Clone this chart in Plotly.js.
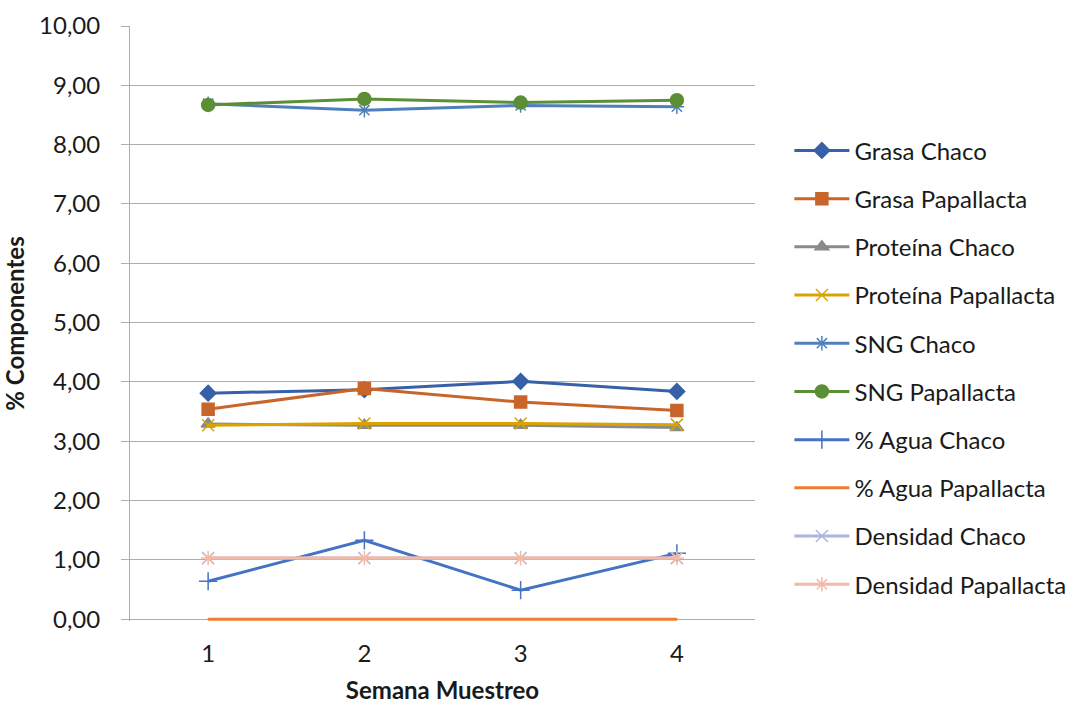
<!DOCTYPE html>
<html>
<head>
<meta charset="utf-8">
<script src="https://cdn.plot.ly/plotly-3.0.1.min.js"></script>
<style>
  html, body { margin: 0; padding: 0; background: #ffffff; }
  #chart { width: 1075px; height: 704px; }
</style>
</head>
<body>
<div id="chart"></div>
<script>
// Semanas de muestreo
const semanas = [1, 2, 3, 4];

// Valores por componente y origen (%)
const grasaChaco = [3.81, 3.87, 4.01, 3.84];
const grasaPapallacta = [3.54, 3.89, 3.66, 3.52];
const proteinaChaco = [3.29, 3.27, 3.27, 3.23];
const proteinaPapallacta = [3.27, 3.30, 3.30, 3.28];
const sngChaco = [8.69, 8.58, 8.66, 8.64];
const sngPapallacta = [8.67, 8.77, 8.71, 8.75];
const aguaChaco = [0.64, 1.33, 0.49, 1.11];
const aguaPapallacta = [0.00, 0.00, 0.00, 0.00];
const densidadChaco = [1.03, 1.03, 1.03, 1.03];
const densidadPapallacta = [1.03, 1.03, 1.03, 1.03];

const nombres = [
  'Grasa Chaco', 'Grasa Papallacta', 'Proteína Chaco', 'Proteína Papallacta',
  'SNG Chaco', 'SNG Papallacta', '% Agua Chaco', '% Agua Papallacta',
  'Densidad Chaco', 'Densidad Papallacta'
];

const series = [grasaChaco, grasaPapallacta, proteinaChaco, proteinaPapallacta,
  sngChaco, sngPapallacta, aguaChaco, aguaPapallacta, densidadChaco, densidadPapallacta];

// Estilo de cada serie: color, símbolo y tamaño del marcador
const estilos = [
  { color: '#3660A8', symbol: 'diamond', size: 12 },
  { color: '#C8652B', symbol: 'square', size: 12 },
  { color: '#8A8A8A', symbol: 'triangle-up', size: 12 },
  { color: '#D9A400', symbol: 'x-thin-open', size: 12 },
  { color: '#4F80BC', symbol: 'asterisk-open', size: 12 },
  { color: '#5B8E35', symbol: 'circle', size: 13 },
  { color: '#4472C4', symbol: 'cross-thin-open', size: 13 },
  { color: '#ED7D31', symbol: 'line-ew-open', size: 1 },
  { color: '#A9B7DC', symbol: 'x-thin-open', size: 12 },
  { color: '#F4B9A6', symbol: 'asterisk-open', size: 12 }
];

const traces = series.map((vals, i) => ({
  type: 'scatter',
  mode: 'lines+markers',
  x: semanas,
  y: vals,
  name: nombres[i],
  legendgroup: 'g' + i,
  cliponaxis: false,
  line: { color: estilos[i].color, width: 3 },
  marker: {
    symbol: estilos[i].symbol,
    size: estilos[i].size,
    color: estilos[i].color,
    line: { color: estilos[i].color, width: 1.5 }
  }
}));

const fuente = { family: 'Lato, "Open Sans", sans-serif', size: 24, color: '#1a1a1a' };
const gris = '#ADADAD';

const layout = {
  width: 1075,
  height: 704,
  paper_bgcolor: '#ffffff',
  plot_bgcolor: '#ffffff',
  margin: { l: 130, r: 320, t: 26, b: 83, autoexpand: false },
  font: fuente,
  separators: ',.',
  showlegend: true,
  legend: {
    x: 1.055, xanchor: 'left',
    y: 0.828, yanchor: 'top',
    font: fuente,
    itemwidth: 55,
    tracegroupgap: 14,
    bgcolor: 'rgba(0,0,0,0)'
  },
  xaxis: {
    range: [0.5, 4.5],
    tickvals: semanas,
    ticktext: semanas.map(String),
    showgrid: false,
    zeroline: false,
    showline: false,
    ticks: '',
    ticklabelstandoff: 16,
    tickfont: fuente,
    title: { text: '<b>Semana Muestreo</b>', font: fuente, standoff: 25 }
  },
  yaxis: {
    // el margen inferior mínimo deja visible todo el grosor de la línea en 0
    range: [-0.03, 10],
    tickvals: [0, 1, 2, 3, 4, 5, 6, 7, 8, 9, 10],
    tickformat: '.2f',
    showgrid: true,
    gridcolor: gris,
    gridwidth: 1,
    zeroline: false,
    showline: true,
    linecolor: gris,
    linewidth: 1,
    ticks: 'outside',
    ticklen: 8,
    tickcolor: gris,
    ticklabelstandoff: 16,
    tickfont: fuente,
    title: { text: '<b>% Componentes</b>', font: fuente, standoff: 9 }
  }
};

Plotly.newPlot('chart', traces, layout, { displayModeBar: false, staticPlot: true });
</script>
</body>
</html>
